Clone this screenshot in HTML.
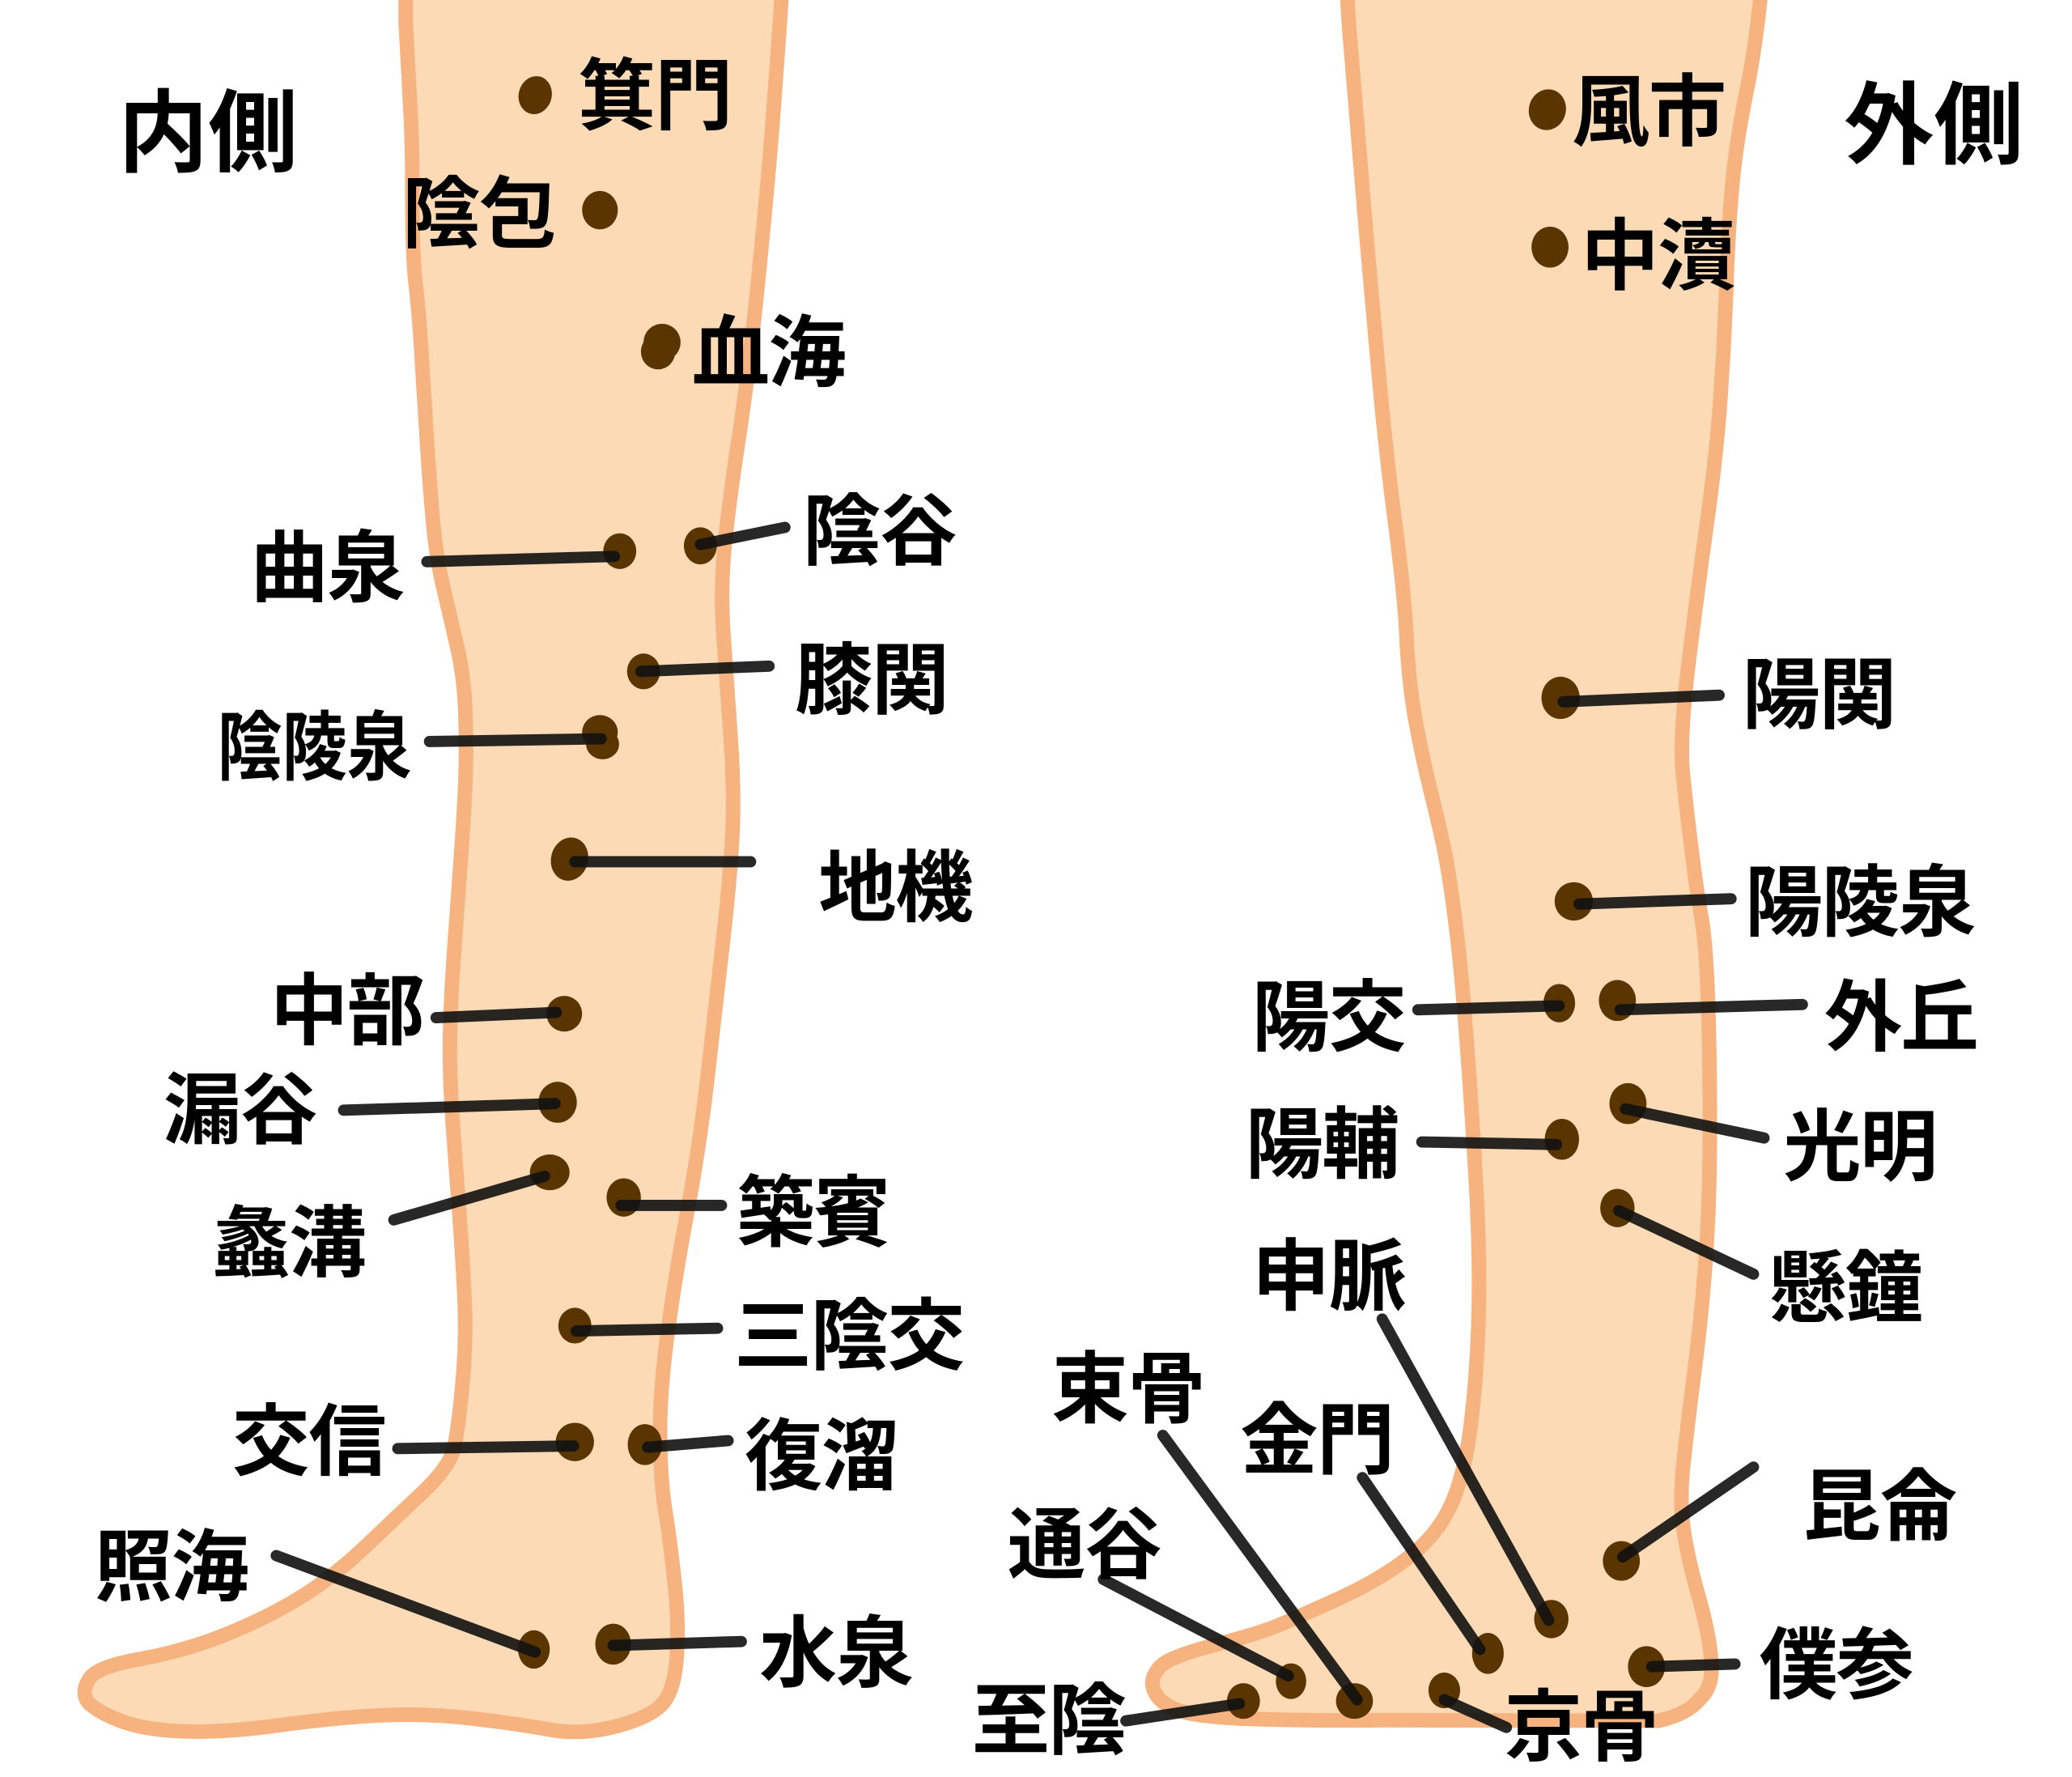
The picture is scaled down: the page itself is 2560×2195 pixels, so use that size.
<!DOCTYPE html>
<html lang="ja"><head><meta charset="utf-8"><title>内側 外側</title>
<style>
html,body{margin:0;padding:0;background:#fff}
svg{display:block;width:2560px;height:2195px}
text{font-family:"Liberation Sans","Noto Sans CJK JP",sans-serif;font-weight:700;font-size:59px;letter-spacing:-1px;fill:#000}
.t{transform:translate(-2.5px,1.5px)}
.leg{fill:#fbdab5;stroke:#f6b380;stroke-width:11;stroke-linejoin:round}
.d{fill:#5a3500}
.l{stroke:#111;stroke-opacity:.9;stroke-width:8.5;stroke-linecap:round;fill:none}
</style></head><body>
<svg xmlns="http://www.w3.org/2000/svg" viewBox="0 0 1568 1344.5">
<path class="leg" d="M307,-10 L307,17 Q309,56 310.5,81.5 Q312,107 312,150 Q312,193 314.5,214.5 Q317,236 319,268.5 Q321,301 323,333 Q325,365 327.5,393 Q330,421 335,442.5 Q340,464 345.5,487.5 Q351,511 352,535 Q353,559 352.5,580.5 Q352,602 349.5,638 Q347,674 344,715 Q341,756 340.5,784 Q340,812 342.5,848.5 Q345,885 347.5,917.5 Q350,950 351.5,982 Q353,1014 350,1046.5 Q347,1079 344,1094 Q341,1109 320.5,1128.5 Q300,1148 275,1171.5 Q250,1195 225,1210 Q200,1225 170,1237 Q140,1249 107.5,1255 Q72,1261 67,1271 Q61,1281 67,1288.5 Q75,1296 92.5,1302.5 Q110,1309 140,1310 Q170,1311 210,1305.5 Q250,1300 285,1298 Q320,1296 355,1300 Q390,1304 415,1308.5 Q440,1313 465,1306.5 Q490,1300 500,1290.5 Q510,1281 512,1255 Q514,1229 510.5,1197 Q507,1165 503.5,1143.5 Q500,1122 499.5,1089.5 Q499,1057 504.5,1014 Q510,971 520,917.5 Q530,864 536,810 Q542,756 547,713 Q552,670 554,636 Q556,602 553,559 Q550,516 547.5,480.5 Q545,445 548.5,411.5 Q552,378 559.5,328.5 Q567,279 573.5,214.5 Q580,150 583.5,107 Q587,64 592,-10 Z"/>
<path class="leg" d="M1019,-10 L1021,21 Q1029,120 1034,178 Q1039,236 1044,290 Q1049,344 1056,397.5 Q1063,451 1064.5,483.5 Q1066,516 1071,544 Q1076,572 1083.5,602 Q1091,632 1094.5,651 Q1098,670 1102,702.5 Q1106,735 1110,788.5 Q1114,842 1117,896 Q1120,950 1119,993 Q1118,1036 1113.5,1074.5 Q1109,1113 1099,1136.5 Q1089,1160 1067,1177.5 Q1045,1195 1012,1210 Q979,1225 965.5,1230.5 Q952,1236 916,1245.5 Q880,1255 876,1263.5 Q869,1272 874.5,1281.5 Q880,1291 896.5,1295.5 Q913,1300 960,1301 Q1007,1302 1048,1301.5 L1255,1302 Q1277,1297 1286,1286 Q1297,1276 1295,1257 Q1294,1238 1285.5,1208 Q1277,1178 1274,1156.5 Q1271,1135 1274,1107 Q1277,1079 1282.5,1036 Q1288,993 1291,950 Q1294,907 1294,853 Q1294,799 1292.5,756 Q1291,713 1287.5,693.5 Q1284,674 1280,642 Q1276,610 1273.5,584.5 Q1271,559 1277.5,505 Q1284,451 1291.5,397.5 Q1299,344 1302,301 Q1305,258 1306.5,215 Q1308,172 1311,139.5 Q1314,107 1321.5,70.5 Q1329,34 1333,-10 Z"/>
<g class="d">
<ellipse cx="405" cy="72" rx="12.5" ry="14.5" transform="rotate(15 405 72)"/>
<ellipse cx="454" cy="159" rx="13.5" ry="14.5"/>
<ellipse cx="501" cy="259" rx="14" ry="14"/><ellipse cx="498" cy="266" rx="13" ry="13.5"/>
<ellipse cx="469" cy="417" rx="12.5" ry="13.5"/>
<ellipse cx="530" cy="413" rx="12.5" ry="14"/>
<ellipse cx="487" cy="508" rx="12.5" ry="13.5"/>
<ellipse cx="454" cy="554" rx="13.5" ry="13"/><ellipse cx="456" cy="563" rx="12.5" ry="11.5"/>
<ellipse cx="431" cy="650" rx="14" ry="16.5" transform="rotate(15 431 650)"/>
<ellipse cx="427" cy="767" rx="13.5" ry="13.5"/>
<ellipse cx="422" cy="834" rx="14.5" ry="15.5"/>
<ellipse cx="416" cy="887" rx="15" ry="13.5"/>
<ellipse cx="472" cy="906" rx="13" ry="14.5"/>
<ellipse cx="435" cy="1003" rx="12.5" ry="13.5"/>
<ellipse cx="435" cy="1091" rx="14.5" ry="14.5"/>
<ellipse cx="488" cy="1093" rx="13" ry="15.5"/>
<ellipse cx="404" cy="1248" rx="12" ry="14.5"/>
<ellipse cx="464" cy="1244" rx="13.5" ry="15.5"/>
<ellipse cx="1171" cy="83" rx="14" ry="15.5" transform="rotate(15 1171 83)"/>
<ellipse cx="1173" cy="187" rx="14" ry="15.5"/>
<ellipse cx="1181" cy="528" rx="14.5" ry="16"/>
<ellipse cx="1191" cy="682" rx="14.5" ry="14.5"/>
<ellipse cx="1180" cy="759" rx="12" ry="14.5"/>
<ellipse cx="1224" cy="757" rx="14" ry="15.5"/>
<ellipse cx="1182" cy="862" rx="13" ry="15.5"/>
<ellipse cx="1232" cy="835" rx="14" ry="15.5"/>
<ellipse cx="1224" cy="914" rx="13" ry="14.5"/>
<ellipse cx="1227" cy="1181" rx="14" ry="15"/>
<ellipse cx="1174" cy="1225" rx="13" ry="14.5"/>
<ellipse cx="1126" cy="1251" rx="12" ry="15.5"/>
<ellipse cx="1246" cy="1261" rx="14" ry="15.5"/>
<ellipse cx="1093" cy="1279" rx="12" ry="13.5"/>
<ellipse cx="1025" cy="1287" rx="14" ry="13.5"/>
<ellipse cx="977" cy="1272" rx="11.5" ry="13.5"/>
<ellipse cx="941" cy="1287" rx="12.5" ry="13.5"/>
</g>
<g class="l">
<path d="M323,425L465,421"/><path d="M530,412L594,399"/><path d="M485,508L582,504"/><path d="M325,561L455,559"/><path d="M435,652L568,652"/><path d="M330,770L421,766"/><path d="M260,840L420,835"/><path d="M298,923L412,890"/><path d="M470,912L546,912"/><path d="M436,1007L543,1005"/><path d="M301,1096L434,1094"/><path d="M490,1095L551,1090"/><path d="M209,1177L405,1250"/><path d="M464,1245L561,1242"/>
<path d="M1183,531L1301,526"/><path d="M1195,684L1310,680"/><path d="M1073,764L1180,761"/><path d="M1226,764L1364,760"/><path d="M1076,864L1178,866"/><path d="M1230,839L1335,861"/><path d="M1225,916L1327,964"/><path d="M1046,998L1172,1226"/><path d="M1031,1118L1120,1248"/><path d="M880,1086L1027,1286"/><path d="M835,1195L975,1268"/><path d="M852,1302L938,1289"/><path d="M1093,1286L1140,1307"/><path d="M1228,1178L1327,1110"/><path d="M1250,1261L1313,1259"/>
</g>
<g class="t">
<text x="92" y="123" style="font-size:68px;letter-spacing:0">内側</text>
<text x="1398" y="117" style="font-size:68px;letter-spacing:0">外側</text>
<text x="440" y="92">箕門</text>
<text x="307" y="181">陰包</text>
<text x="526" y="286">血海</text>
<text x="610" y="421">陰谷</text>
<text x="192" y="449">曲泉</text>
<text x="604" y="534">膝関</text>
<text x="167" y="584" style="font-size:57px;letter-spacing:0" textLength="147" lengthAdjust="spacingAndGlyphs">陰陵泉</text>
<text x="622" y="691">地機</text>
<text x="207" y="784">中部</text>
<text x="126" y="859">漏谷</text>
<text x="163" y="960">蠡溝</text>
<text x="560" y="937">築賓</text>
<text x="558" y="1030">三陰交</text>
<text x="178" y="1110">交信</text>
<text x="566" y="1121">復溜</text>
<text x="74" y="1205">照海</text>
<text x="577" y="1270">水泉</text>
<text x="1192" y="104">風市</text>
<text x="1199" y="213">中瀆</text>
<text x="1321" y="545">陽関</text>
<text x="1323" y="702">陽陵泉</text>
<text x="950" y="789">陽交</text>
<text x="1383" y="789">外丘</text>
<text x="945" y="885">陽輔</text>
<text x="1352" y="887">光明</text>
<text x="1341" y="994">懸鐘</text>
<text x="950" y="985">申脈</text>
<text x="798" y="1070">束骨</text>
<text x="941" y="1109">金門</text>
<text x="1367" y="1159">昆侖</text>
<text x="765" y="1188">通谷</text>
<text x="1334" y="1279">僕参</text>
<text x="738" y="1321">至陰</text>
<text x="1141" y="1326">京骨</text>
</g>
</svg>
</body></html>
